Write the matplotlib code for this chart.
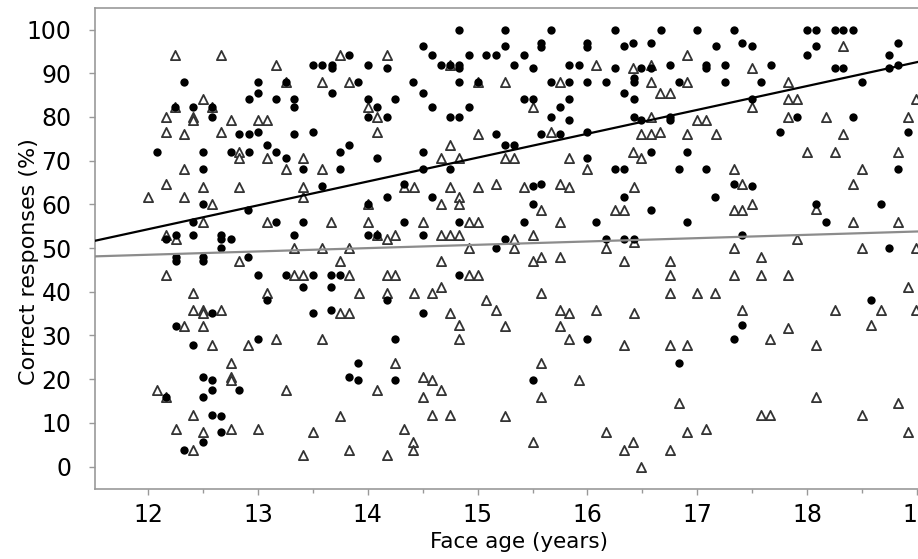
import matplotlib
matplotlib.use("Agg")
import matplotlib.pyplot as plt
import numpy as np
from matplotlib.ticker import MultipleLocator

# Filled circles (one group)
dots_x = [12.33, 13.0, 13.25, 13.0, 12.92, 13.16, 13.33, 13.33, 12.24, 12.41, 12.58, 12.58, 12.83, 12.92, 13.0, 13.33,
          12.08, 12.5, 12.75, 12.92, 13.08, 13.16, 13.25, 12.5,
          14.83, 15.25, 14.5, 15.25, 13.83, 14.58, 14.92, 15.08, 15.17, 13.5, 13.58, 13.67, 13.67, 14.0, 14.17, 14.67,
          14.75, 14.83, 14.83, 13.91, 14.41, 14.83, 15.0, 13.67, 14.5, 14.0, 14.08, 14.25, 14.58, 14.92, 14.0, 14.17,
          14.75, 14.83, 13.5, 15.17, 13.83, 13.75, 15.25, 14.08, 14.5, 13.41, 13.75, 14.5, 14.75,
          15.67, 16.25, 16.67, 17.0, 15.58, 15.58, 16.0, 16.0, 16.41, 16.58, 16.33, 15.42, 15.33, 15.5, 15.83, 15.92,
          16.25, 16.49, 16.58, 16.75, 17.08, 17.08, 15.67, 15.83, 16.0, 16.17, 16.42, 16.42, 16.83, 16.33, 16.42, 15.42,
          15.5, 15.75, 15.83, 15.67, 15.83, 16.42, 16.49, 16.75, 16.75, 15.58, 15.75, 16.0, 15.33, 16.0, 16.58, 16.91,
          16.25, 16.33, 16.83, 17.08,
          17.33, 18.0, 18.08, 18.25, 18.33, 18.42, 17.17, 17.41, 17.5, 18.08, 18.83, 18.0, 18.75, 17.25, 17.67, 18.25,
          18.33, 18.75, 18.83, 17.25, 17.58, 18.5, 17.5, 17.91, 18.42, 17.75, 18.92, 18.83,
          12.5, 12.91, 12.41, 13.16, 12.16, 12.25, 12.41, 12.66, 12.66, 12.75, 12.66, 13.33, 12.25, 12.25, 12.5, 12.5,
          12.91, 13.0, 13.25, 13.08, 12.58, 12.25,
          12.41, 13.0, 12.5, 12.58, 12.16, 12.58, 12.83, 12.5, 12.58, 12.66, 12.66, 12.5, 12.33,
          14.33, 13.58, 14.17, 14.0, 14.58, 13.41, 14.33, 14.83, 14.0, 14.08, 14.5, 15.25, 15.17, 13.5, 13.66, 13.75,
          14.83, 13.41, 13.66, 14.17, 13.5, 13.66, 14.5,
          14.25, 13.91, 13.83, 13.91, 14.25,
          15.5, 15.58, 16.33, 15.5, 16.58, 15.42, 16.08, 16.91, 16.17, 16.33, 16.42,
          16.0, 16.83, 15.5,
          17.33, 17.5, 17.16, 18.08, 18.67, 18.17, 17.41, 18.75, 18.58, 17.41,
          17.33]
dots_y = [88, 88, 88, 85.5, 84, 84, 84, 82.3, 82.3, 82.3, 82.3, 80, 76, 76, 76.5, 76,
          72, 72, 72, 72, 73.6, 72, 70.6, 68,
          100, 100, 96.2, 96.2, 94.2, 94.2, 94.2, 94.2, 94.2, 92, 92, 92, 91.3, 92, 91.3, 92,
          92, 92, 91.3, 88, 88, 88, 88, 85.4, 85.4, 84.1, 82.3, 84.1, 82.3, 82.3, 80, 80,
          80, 80, 76.5, 76.1, 73.6, 72, 73.6, 70.6, 72, 68.2, 68, 68.2, 68,
          100, 100, 100, 100, 97, 96, 97, 96, 97, 97, 96.2, 94.2, 92, 91.3, 92, 92,
          91.3, 91.3, 91.3, 92, 92, 91.3, 88, 88, 88, 88, 88.8, 88, 88, 85.4, 84.1, 84.1,
          84.1, 82.3, 84.1, 80, 79.4, 80, 79.4, 80, 79.4, 76.1, 76.1, 76.5, 73.6, 70.6, 72, 72,
          68, 68, 68, 68,
          100, 100, 100, 100, 100, 100, 96.2, 97, 96.2, 96.2, 97, 94.2, 94.2, 92, 92, 91.3,
          91.3, 91.3, 92, 88, 88, 88, 84.1, 80, 80, 76.5, 76.5, 68,
          60.1, 58.8, 55.9, 55.9, 52.1, 53, 53, 53, 52.1, 52.1, 50, 53, 47.9, 47, 47.9, 47,
          47.9, 43.9, 43.9, 38.2, 35.1, 32.1,
          27.9, 29.3, 20.4, 19.8, 16, 17.5, 17.5, 16, 11.8, 11.6, 8, 5.7, 3.8,
          64.7, 64.1, 61.7, 60.1, 61.7, 55.9, 55.9, 55.9, 53, 53, 53, 52.1, 50, 43.9, 43.9, 43.9,
          43.9, 41.2, 41.2, 38.2, 35.1, 35.9, 35.1,
          29.3, 23.6, 20.4, 19.8, 19.8,
          64.1, 64.7, 61.7, 60.1, 58.8, 55.9, 55.9, 55.9, 52.1, 52.1, 52.1,
          29.3, 23.6, 19.8,
          64.7, 64.1, 61.7, 60.1, 60.1, 55.9, 53, 50, 38.2, 32.4,
          29.3]

# Open triangles (other group)
tri_x = [12.24, 12.66, 13.16, 13.25, 12.5, 12.24, 12.58, 12.16, 12.41, 12.41, 12.75, 13.0, 13.08, 12.16, 12.33, 12.66,
         12.83, 12.83, 13.08, 12.33, 13.25,
         13.75, 14.17, 14.75, 13.58, 13.83, 15.0, 15.25, 14.0, 14.08, 14.08, 15.0, 14.75, 13.41, 14.67, 14.83, 15.25,
         13.58,
         16.91, 16.08, 16.41, 16.58, 15.75, 16.58, 16.91, 16.66, 16.75, 15.5, 16.58, 17.0, 17.08, 15.67, 16.49, 16.58,
         16.66, 16.91, 15.33, 15.83, 16.41, 16.49, 16.0,
         18.33, 17.5, 17.83, 17.5, 17.83, 17.91, 18.99, 17.83, 18.17, 18.92, 17.17, 18.33, 18.0, 18.25, 18.83, 17.33,
         18.5,
         12.16, 12.5, 12.83, 12.0, 12.33, 12.58, 12.5, 13.08, 12.16, 12.25, 13.33, 12.83, 12.16, 13.33, 12.41, 13.08,
         12.41, 12.5, 12.5, 12.66, 12.33, 12.5,
         12.58, 12.91, 13.16, 12.75, 12.75, 12.75, 12.08, 12.16, 13.25, 12.41, 12.25, 12.5, 12.75, 13.0, 12.41,
         14.33, 14.42, 14.75, 15.0, 15.17, 13.41, 13.41, 14.0, 14.83, 14.67, 14.83, 13.66, 14.0, 14.5, 14.92, 15.0,
         14.08, 14.17, 14.25, 14.67, 14.75, 14.83, 13.58, 13.83, 14.92, 13.75, 14.67, 13.41, 13.83, 14.17, 14.25, 14.92,
         15.0, 13.92, 14.17, 14.42, 14.58, 14.67, 15.08, 15.17, 13.75, 13.83, 14.75, 14.83, 15.25,
         13.58, 14.83, 14.25, 14.5, 14.58, 14.08, 14.67, 14.5, 13.75, 14.58, 14.75, 15.25, 13.5, 14.33, 14.41, 14.41,
         13.83, 14.17, 13.41,
         15.42, 15.75, 15.83, 16.42, 15.58, 16.25, 16.33, 15.75, 15.33, 15.5, 15.33, 16.17, 16.42, 15.5, 15.58, 15.75,
         16.33, 16.75, 16.75, 15.58, 16.75, 17.0, 15.75, 15.83, 16.08, 16.42, 15.75,
         15.83, 16.33, 16.75, 16.91, 15.58, 15.92, 15.58, 16.83, 16.17, 16.91, 17.08, 15.5, 16.33, 16.41, 16.75, 16.49,
         17.41, 18.42, 17.33, 17.41, 17.5, 18.08, 18.42, 18.83, 17.91, 17.33, 18.5, 18.99, 17.58, 17.33, 17.58, 17.83,
         17.16, 18.92, 17.41, 18.25, 18.67, 18.99, 17.83, 18.58,
         17.66, 18.08, 18.08, 17.58, 17.66, 18.5, 18.83, 18.92]
tri_y = [94.2, 94.2, 92, 88, 84.1, 82.3, 82.3, 80, 80, 79.4, 79.4, 79.4, 79.4, 76.5, 76.1, 76.5,
         72, 70.5, 70.5, 68, 68.2,
         94.2, 94.2, 92, 88, 88, 88, 88, 82.3, 80, 76.5, 76.1, 73.6, 70.5, 70.5, 70.5, 70.5,
         68,
         94.2, 92, 91.3, 92, 88, 88, 88, 85.4, 85.4, 82.3, 80, 79.4, 79.4, 76.5, 76.1, 76.1,
         76.5, 76.1, 70.5, 70.5, 72, 70.5, 68,
         96.2, 91.3, 88, 82.3, 84, 84, 84, 80, 80, 80, 76.1, 76.1, 72, 72, 72, 68,
         68,
         64.7, 63.9, 63.9, 61.7, 61.7, 60.1, 55.9, 55.9, 53, 52.1, 50, 47, 43.9, 43.9, 39.7, 39.7,
         35.9, 35.9, 35.1, 35.9, 32.1, 32.1,
         27.9, 27.9, 29.3, 23.8, 20.4, 19.8, 17.5, 16, 17.5, 11.8, 8.6, 8, 8.6, 8.6, 3.8,
         63.9, 63.9, 63.9, 63.9, 64.7, 63.9, 61.7, 60.1, 61.7, 60.1, 60.1, 55.9, 55.9, 55.9, 55.9, 55.9,
         53, 52.1, 53, 53, 53, 53, 50, 50, 50, 47, 47, 43.9, 43.9, 43.9, 43.9, 43.9,
         43.9, 39.7, 39.7, 39.7, 39.7, 41.2, 38.2, 35.9, 35.1, 35.1, 35.1, 32.4, 32.1,
         29.3, 29.3, 23.6, 20.4, 19.8, 17.5, 17.5, 16, 11.6, 11.8, 11.8, 11.6, 8, 8.6, 5.7, 3.8,
         3.8, 2.6, 2.6,
         63.9, 64.7, 63.9, 63.9, 58.8, 58.8, 58.8, 55.9, 52.1, 53, 50, 50, 51.5, 47, 47.9, 47.9,
         47, 47, 43.9, 39.7, 39.7, 39.7, 35.9, 35.1, 35.9, 35.1, 32.1,
         29.3, 27.9, 27.9, 27.9, 23.6, 19.8, 16, 14.5, 8, 8, 8.6, 5.7, 3.8, 5.7, 3.8, 0,
         64.7, 64.7, 58.8, 58.8, 60.1, 59, 55.9, 55.9, 52.1, 50, 50, 50, 47.9, 43.9, 43.9, 43.9,
         39.7, 41.2, 35.9, 35.9, 35.9, 35.9, 31.8, 32.4,
         29.3, 27.9, 16, 11.8, 11.8, 11.8, 14.5, 8]

# Regression lines: (slope, intercept) in % per year
fit_dots = (5.46, -11.2)
fit_tris = (0.76, 39.35)

x_ticks = [12, 13, 14, 15, 16, 17, 18, 19]
y_ticks = list(range(0, 101, 10))

fig = plt.figure(figsize=(9.18, 5.59), dpi=100)
ax = fig.add_axes([95/918, 1 - 489.3/559, 1 - 95/918, (489.3 - 7.7)/559])

ax.scatter(tri_x, tri_y, marker='^', s=44, facecolors='white', edgecolors='#333333', linewidths=1.3, zorder=3)
ax.scatter(dots_x, dots_y, marker='o', s=36, color='black', linewidths=0, zorder=4)

xx = np.array([11.4, 19.2])
ax.plot(xx, fit_dots[0]*xx + fit_dots[1], color='black', lw=1.6, zorder=5)
ax.plot(xx, fit_tris[0]*xx + fit_tris[1], color='#8c8c8c', lw=1.6, zorder=5)

ax.set_xlim(11.515, 19.01)
ax.set_ylim(-5.2, 105)
ax.set_xticks(x_ticks)
ax.set_xticklabels([str(v) for v in x_ticks])
ax.xaxis.set_minor_locator(MultipleLocator(0.5))
ax.set_yticks(y_ticks)

for s in ['left', 'bottom', 'top']:
    ax.spines[s].set_color('#999999')
    ax.spines[s].set_linewidth(1.2)
ax.spines['right'].set_visible(False)

ax.tick_params(axis='both', which='both', direction='out', color='#999999', width=1)
ax.tick_params(axis='x', which='major', length=4, labelsize=17, pad=6)
ax.tick_params(axis='x', which='minor', length=3)
ax.tick_params(axis='y', which='major', length=4, labelsize=17, pad=13)

ax.set_xlabel('Face age (years)', fontsize=15.5)
ax.xaxis.set_label_coords((519 - 95) / 823, -0.088)
ax.set_ylabel('Correct responses (%)', fontsize=16)
ax.yaxis.set_label_coords((39 - 95) / 823, (489.3 - 262) / 481.6)

fig.savefig('out.png', dpi=100)
